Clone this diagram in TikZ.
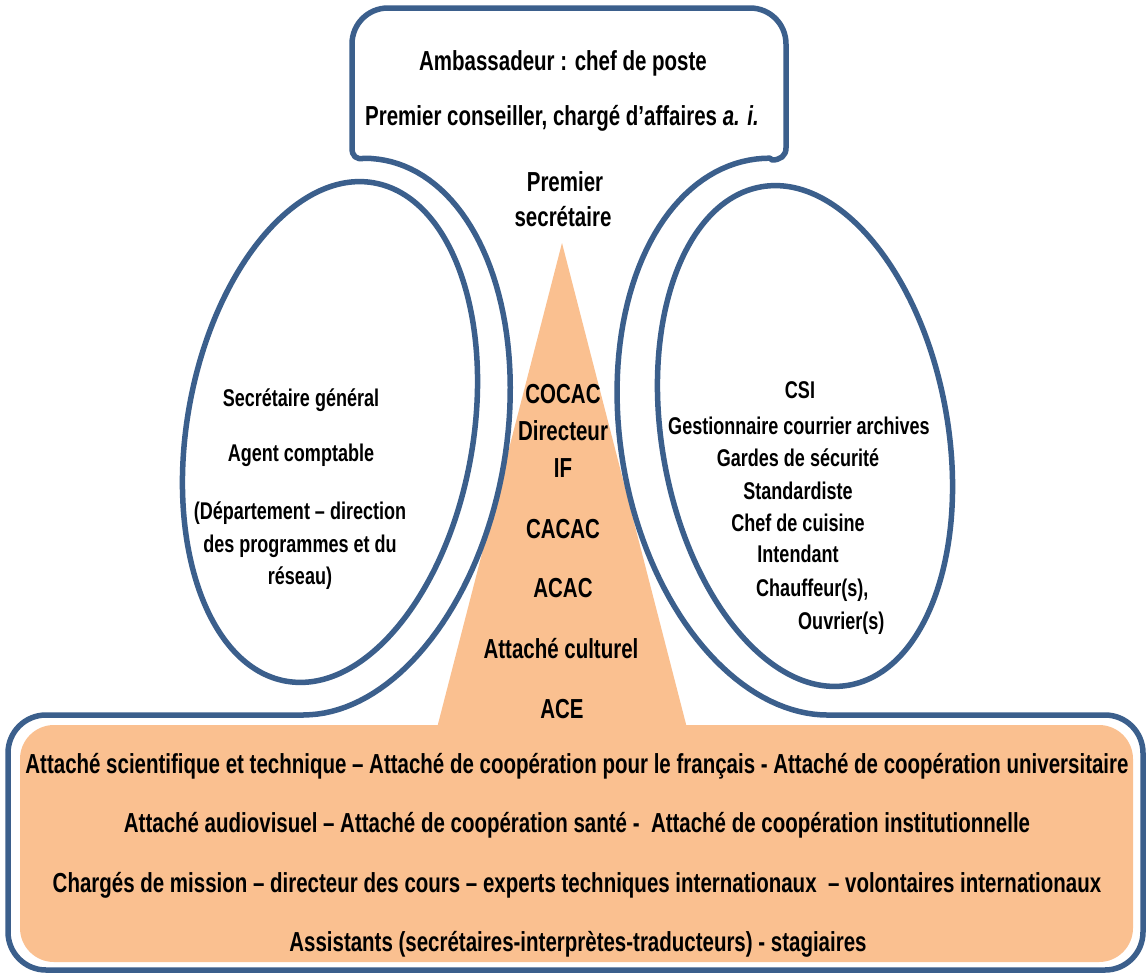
\documentclass[tikz,border=0pt]{standalone}
\usepackage{fontspec}
\setmainfont{Liberation Sans}[FakeStretch=0.745]
\definecolor{bl}{HTML}{3B5F8C}
\definecolor{org}{HTML}{FAC090}
\begin{document}
\begin{tikzpicture}[x=1pt,y=-1pt,
  ring/.style={draw=bl, line width=5.5pt},
  big/.style={font=\fontsize{27.5}{32}\selectfont\bfseries, inner sep=0pt, anchor=base},
  sml/.style={font=\fontsize{24.2}{28}\selectfont\bfseries, inner sep=0pt, anchor=base}]
\useasboundingbox (0,0) rectangle (1146,975);
\fill[white] (0,0) rectangle (1146,975);
% orange areas
\fill[org, rounded corners=34pt] (20,725) rectangle (1133,962);
\fill[org] (562,243) -- (437,728) -- (687,728) -- cycle;
% outer outline
\draw[ring, line join=round]
 (8,753) .. controls (8,732) and (25,715) .. (46,715)
 -- (303.7,715)
 -- plot[domain=-83.84:96.16, samples=80, variable=\t]
   ({334+172*cos(\t)*0.9848+281*sin(\t)*0.1736},{436.6+172*cos(\t)*0.1736-281*sin(\t)*0.9848})
 .. controls (356,160) and (352,156) .. (352,148)
 -- (352,44) .. controls (352,24) and (368,8) .. (388,8)
 -- (750,8) .. controls (770,8) and (786,24) .. (786,44)
 -- (786,148) .. controls (786,156) and (780,160) .. (772,160)
 -- plot[domain=83.63:263.63, samples=80, variable=\t]
   ({799+178*cos(\t)*0.9848-281*sin(\t)*0.1736},{436.6-178*cos(\t)*0.1736-281*sin(\t)*0.9848})
 -- (1105,715) .. controls (1126,715) and (1143,732) .. (1143,753)
 -- (1143,932) .. controls (1143,953) and (1126,970) .. (1105,970)
 -- (46,970) .. controls (25,970) and (8,953) .. (8,932) -- cycle;
% inner ellipses
\draw[ring, rotate around={-10:(330,432)}] (330,432) ellipse [x radius=143pt, y radius=253pt];
\draw[ring, rotate around={10:(805,436)}] (805,436) ellipse [x radius=143pt, y radius=253pt];
% top box
\node[big] (amb) at (563,70) {Ambassadeur : chef de poste};
\node[big] (pc) at (562,125) {Premier conseiller, chargé d’affaires \textit{a. i.}};
\node[big] (ps1) at (565,191) {Premier};
\node[big] (ps2) at (563,226) {secrétaire};
% triangle
\node[big] (cocac) at (563,403) {COCAC};
\node[big] (dir) at (563,440) {Directeur};
\node[big] (if) at (563,477) {IF};
\node[big] (cacac) at (563,538) {CACAC};
\node[big] (acac) at (563,597) {ACAC};
\node[big] (attc) at (561,658) {Attaché culturel};
\node[big] (ace) at (562,718) {ACE};
% left ellipse
\node[sml] (sg) at (301,406) {Secrétaire général};
\node[sml] (ac) at (301,461) {Agent comptable};
\node[sml] (dep1) at (300,519) {(Département – direction};
\node[sml] (dep2) at (300,552) {des programmes et du};
\node[sml] (dep3) at (300,584) {réseau)};
% right ellipse
\node[sml] (csi) at (800,398) {CSI};
\node[sml] (gca) at (799,434) {Gestionnaire courrier archives};
\node[sml] (gds) at (798,466) {Gardes de sécurité};
\node[sml] (std) at (798,499) {Standardiste};
\node[sml] (cdc) at (798,531) {Chef de cuisine};
\node[sml] (int) at (798,562) {Intendant};
\node[sml, anchor=base west] (chf) at (756,596) {Chauffeur(s),};
\node[sml, anchor=base west] (ouv) at (798,629) {Ouvrier(s)};
% bottom box
\node[big] (b1) at (577,773) {Attaché scientifique et technique – Attaché de coopération pour le français - Attaché de coopération universitaire};
\node[big] (b2) at (577,832) {Attaché audiovisuel – Attaché de coopération santé -~ Attaché de coopération institutionnelle};
\node[big] (b3) at (577,892) {Chargés de mission – directeur des cours – experts techniques internationaux~ – volontaires internationaux};
\node[big] (b4) at (578,951) {Assistants (secrétaires-interprètes-traducteurs) - stagiaires};
\end{tikzpicture}
\end{document}
